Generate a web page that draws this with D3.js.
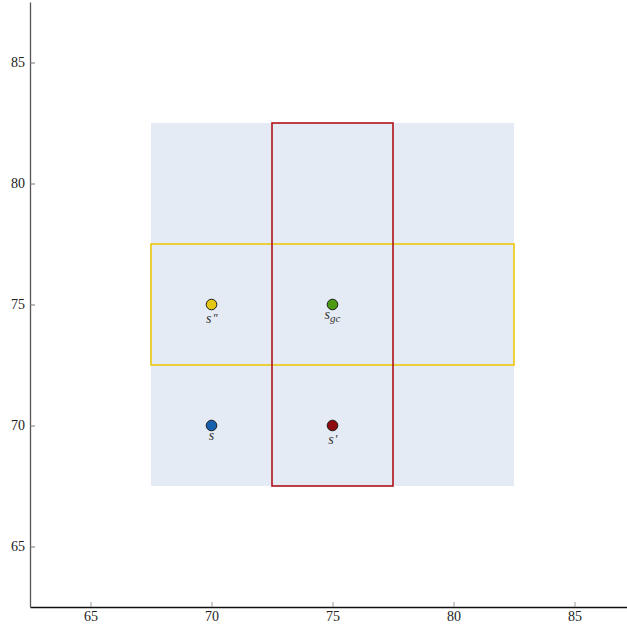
<!DOCTYPE html>
<html>
<head>
<meta charset="utf-8">
<script src="https://cdn.jsdelivr.net/npm/d3@7"></script>
<style>
  html, body { margin: 0; padding: 0; background: #fff; }
  svg { display: block; }
  .tick text { font-family: "Liberation Serif", "DejaVu Serif", serif; font-size: 14px; fill: #222; }
</style>
</head>
<body>
<svg id="chart" width="627" height="627"></svg>
<script>
// Axis ticks
const xTicks = [65, 70, 75, 80, 85];
const yTicks = [65, 70, 75, 80, 85];

// Shaded neighbourhood [x0, x1, y0, y1]
const region = [67.5, 82.5, 67.5, 82.5];
// Outlined boxes
const boxNames = ["row", "column"];
const boxX0 = [67.5, 72.5];
const boxX1 = [82.5, 77.5];
const boxY0 = [72.5, 67.5];
const boxY1 = [77.5, 82.5];
const boxColors = ["#ecc80a", "#b0121b"];

// Points
const pointNames = ["s", "s'", "s''", "sgc"];
const pointX = [70, 75, 70, 75];
const pointY = [70, 70, 75, 75];
const pointColors = ["#1660ad", "#8e0b12", "#e3c712", "#4c9a12"];

const svg = d3.select("#chart");
const x = d3.scaleLinear().domain([62.5, 87.5]).range([30, 635]);
const y = d3.scaleLinear().domain([62.5, 87.5]).range([607, 2]);

// Background neighbourhood
svg.append("rect")
  .attr("x", x(region[0])).attr("y", y(region[3]))
  .attr("width", x(region[1]) - x(region[0]))
  .attr("height", y(region[2]) - y(region[3]))
  .attr("fill", "#e5ebf4");

// Boxes
svg.selectAll("rect.box").data(boxNames).join("rect")
  .attr("class", "box")
  .attr("x", (d, i) => x(boxX0[i]))
  .attr("y", (d, i) => y(boxY1[i]))
  .attr("width", (d, i) => x(boxX1[i]) - x(boxX0[i]))
  .attr("height", (d, i) => y(boxY0[i]) - y(boxY1[i]))
  .attr("fill", "none")
  .attr("stroke", (d, i) => boxColors[i])
  .attr("stroke-width", 1.6);

// Points
svg.selectAll("circle.pt").data(pointNames).join("circle")
  .attr("class", "pt")
  .attr("cx", (d, i) => x(pointX[i]))
  .attr("cy", (d, i) => y(pointY[i]))
  .attr("r", 5.3)
  .attr("fill", (d, i) => pointColors[i])
  .attr("stroke", "#1a1a1a")
  .attr("stroke-width", 1);

// Point labels (math-style italic)
const labelFont = "'Liberation Serif', 'DejaVu Serif', serif";
pointNames.forEach((name, i) => {
  const primes = name.replace("s", "").replace("gc", "").length;
  const t = svg.append("text")
    .attr("x", x(pointX[i]))
    .attr("y", y(pointY[i]) + (primes > 0 ? 18 : 14))
    .attr("text-anchor", "middle")
    .attr("font-family", labelFont)
    .attr("font-style", "italic")
    .attr("font-size", 14)
    .attr("fill", "#333");
  t.append("tspan").text("s");
  if (name === "sgc") {
    t.append("tspan").attr("dy", 3).attr("font-size", 11).text("gc");
  } else if (primes > 0) {
    t.append("tspan").attr("dy", -1).attr("dx", 1).attr("font-size", 13)
      .attr("letter-spacing", -0.5)
      .text("'".repeat(primes));
  }
});

// Axes
const xAxis = svg.append("g")
  .attr("transform", `translate(0,${y(62.5)})`)
  .call(d3.axisBottom(x).tickValues(xTicks).tickSize(-5).tickPadding(4).tickSizeOuter(0));
xAxis.select(".domain").attr("stroke", "#111").attr("stroke-width", 1.3);
xAxis.selectAll(".tick line").attr("stroke", "#999");
xAxis.selectAll(".tick text").attr("dy", "0.71em");

const yAxis = svg.append("g")
  .attr("transform", `translate(${x(62.5)},0)`)
  .call(d3.axisLeft(y).tickValues(yTicks).tickSize(-5).tickPadding(5).tickSizeOuter(0));
yAxis.select(".domain").attr("stroke", "#555").attr("stroke-width", 1.3);
yAxis.selectAll(".tick line").attr("stroke", "#777");
</script>
</body>
</html>
